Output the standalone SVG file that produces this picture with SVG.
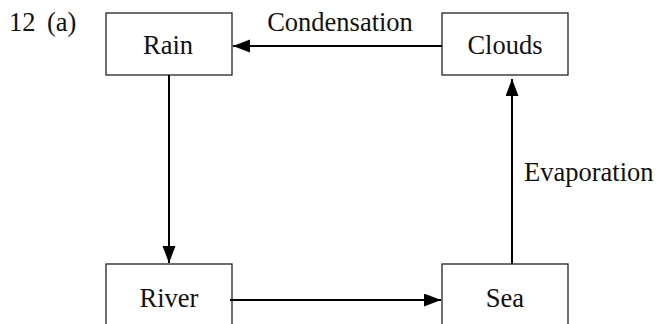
<svg xmlns="http://www.w3.org/2000/svg" width="656" height="324" viewBox="0 0 656 324">
<style>
.box{fill:#fff;stroke:#222;stroke-width:1.3}
.t{font-family:"Liberation Serif","DejaVu Serif",serif;font-size:26.5px;fill:#111}
.c{stroke:#000;stroke-width:2;fill:none}
</style>
<defs>
<marker id="ah" markerUnits="userSpaceOnUse" markerWidth="18" markerHeight="14" refX="17" refY="6.5" orient="auto">
<path d="M0,0 L17,6.5 L0,13 Z" fill="#000"/>
</marker>
</defs>
<rect width="656" height="324" fill="#fff"/>
<text class="t" x="9" y="31">12</text>
<text class="t" x="47" y="31">(a)</text>
<g id="rain"><rect class="box" x="106" y="13" width="126" height="62"/><text class="t" x="168" y="54" text-anchor="middle">Rain</text></g>
<g id="clouds"><rect class="box" x="442" y="13" width="126" height="62"/><text class="t" x="505" y="54" text-anchor="middle">Clouds</text></g>
<g id="river"><rect class="box" x="106" y="264" width="126" height="70"/><text class="t" x="169" y="307" text-anchor="middle">River</text></g>
<g id="sea"><rect class="box" x="442" y="264" width="126" height="70"/><text class="t" x="505" y="307" text-anchor="middle">Sea</text></g>
<g id="connectors">
<line class="c" x1="442" y1="46" x2="233" y2="46" marker-end="url(#ah)"/>
<line class="c" x1="169" y1="75" x2="169" y2="263" marker-end="url(#ah)"/>
<line class="c" x1="230" y1="300" x2="441" y2="300" marker-end="url(#ah)"/>
<line class="c" x1="512" y1="264" x2="512" y2="79" marker-end="url(#ah)"/>
<text class="t" x="340" y="31" text-anchor="middle">Condensation</text>
<text class="t" x="524" y="181">Evaporation</text>
</g>
</svg>
